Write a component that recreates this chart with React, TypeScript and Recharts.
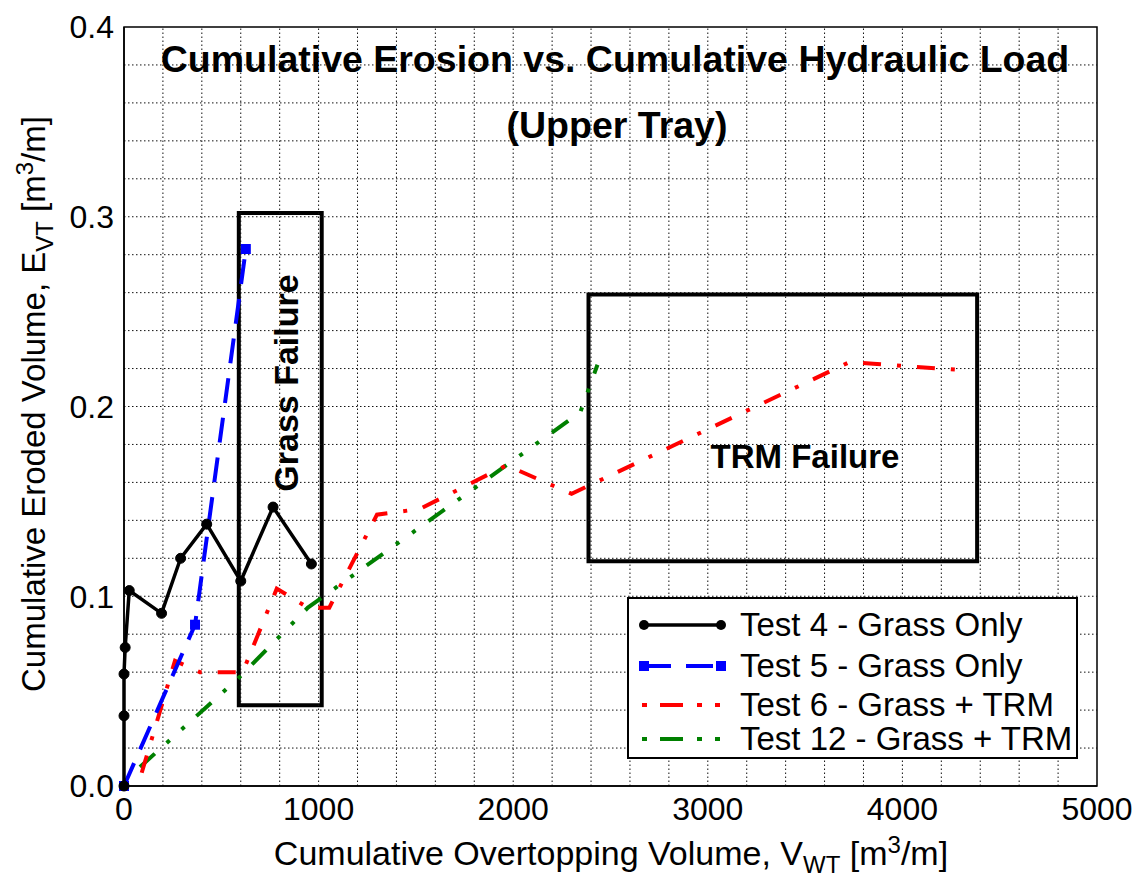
import React from 'react';
import { LineChart, Line, XAxis, YAxis, ReferenceLine, ReferenceArea } from 'recharts';

// values: v = cumulative overtopping volume, e = eroded volume
const test4 = [
  { v: 0, e: 0 },
  { v: 0, e: 0.037 },
  { v: 0, e: 0.059 },
  { v: 6, e: 0.073 },
  { v: 27, e: 0.103 },
  { v: 193, e: 0.091 },
  { v: 291, e: 0.12 },
  { v: 425, e: 0.138 },
  { v: 600, e: 0.108 },
  { v: 766, e: 0.147 },
  { v: 963, e: 0.117 },
];

const test5 = [
  { v: 0, e: 0 },
  { v: 365, e: 0.085 },
  { v: 626, e: 0.283 },
];

const test6 = [
  { v: 91, e: 0.007 },
  { v: 262, e: 0.066 },
  { v: 390, e: 0.06 },
  { v: 610, e: 0.06 },
  { v: 785, e: 0.104 },
  { v: 945, e: 0.094 },
  { v: 1055, e: 0.094 },
  { v: 1300, e: 0.143 },
  { v: 1520, e: 0.146 },
  { v: 1966, e: 0.169 },
  { v: 2300, e: 0.154 },
  { v: 3730, e: 0.2235 },
  { v: 3850, e: 0.2225 },
  { v: 4330, e: 0.219 },
];

const test12 = [
  { v: 82, e: 0.01 },
  { v: 590, e: 0.057 },
  { v: 945, e: 0.094 },
  { v: 2345, e: 0.197 },
  { v: 2433, e: 0.222 },
];

const xTicks = [0, 1000, 2000, 3000, 4000, 5000];
const yTicks = [0, 0.1, 0.2, 0.3, 0.4];
const xGrid = [200, 400, 600, 800, 1000, 1200, 1400, 1600, 1800, 2000, 2200, 2400, 2600, 2800, 3000, 3200, 3400, 3600, 3800, 4000, 4200, 4400, 4600, 4800];
const yGrid = [0.02, 0.04, 0.06, 0.08, 0.1, 0.12, 0.14, 0.16, 0.18, 0.2, 0.22, 0.24, 0.26, 0.28, 0.3, 0.32, 0.34, 0.36, 0.38];

// failure boxes [x1, x2, y1, y2]
const grassBox = [590, 1016, 0.0426, 0.302];
const trmBox = [2387, 4384, 0.1184, 0.259];

const legendItems = ['Test 4 - Grass Only', 'Test 5 - Grass Only', 'Test 6 - Grass + TRM', 'Test 12 - Grass + TRM'];

const font = '"Liberation Sans", Arial, Helvetica, sans-serif';

const blueDash = '25 15';
const redDash = '18 16 4 16';
const greenDash = '20 16 4 16 4 16';
const gridDash = '1.5 2.5';

const SquareDot = (props: any) => {
  const { cx, cy, index } = props;
  if (cx == null || cy == null) return null;
  return <rect key={`sq-${index}`} x={cx - 5} y={cy - 5} width={10} height={10} fill="#0000ff" />;
};

const LegendSample: React.FC<{ i: number }> = ({ i }) => {
  if (i === 0) {
    return (
      <svg width={90} height={20}>
        <line x1={5} y1={10} x2={82} y2={10} stroke="#000" strokeWidth={3.5} />
        <circle cx={5} cy={10} r={5} fill="#000" />
        <circle cx={82} cy={10} r={5} fill="#000" />
      </svg>
    );
  }
  if (i === 1) {
    return (
      <svg width={90} height={20}>
        <line x1={5} y1={10} x2={82} y2={10} stroke="#0000ff" strokeWidth={4} strokeDasharray="27 15" />
        <rect x={0} y={5} width={10} height={10} fill="#0000ff" />
        <rect x={77} y={5} width={10} height={10} fill="#0000ff" />
      </svg>
    );
  }
  return (
    <svg width={90} height={20}>
      <line
        x1={3}
        y1={10}
        x2={85}
        y2={10}
        stroke={i === 2 ? '#ff0000' : '#008000'}
        strokeWidth={4}
        strokeDasharray="5 13 23 14 5 13 5 13"
      />
    </svg>
  );
};

const App: React.FC = () => {
  return (
    <div style={{ position: 'absolute', left: 0, top: 0, width: 1141, height: 877, background: '#fff', fontFamily: font }}>
      <LineChart width={1141} height={877} margin={{ top: 27, right: 44, bottom: 0, left: 0 }}>
        <XAxis
          dataKey="v"
          type="number"
          domain={[0, 5000]}
          ticks={xTicks}
          height={91}
          tickLine={false}
          tickSize={0}
          tickMargin={11}
          axisLine={{ stroke: '#000', strokeWidth: 1.5 }}
          tick={{ fill: '#000', fontSize: 32, fontFamily: font }}
        />
        <YAxis
          type="number"
          domain={[0, 0.4]}
          ticks={yTicks}
          width={124}
          tickLine={false}
          tickSize={0}
          tickMargin={10}
          axisLine={{ stroke: '#000', strokeWidth: 1.5 }}
          tickFormatter={(t: number) => t.toFixed(1)}
          tick={{ fill: '#000', fontSize: 32, fontFamily: font }}
        />
        {xGrid.map((g) => (
          <ReferenceLine key={`gx-${g}`} x={g} stroke="#111" strokeWidth={1} strokeDasharray={gridDash} />
        ))}
        {yGrid.map((g) => (
          <ReferenceLine key={`gy-${g}`} y={g} stroke="#111" strokeWidth={1} strokeDasharray={gridDash} />
        ))}
        <ReferenceArea x1={0} x2={5000} y1={0} y2={0.4} fill="none" stroke="#000" strokeWidth={1.5} />
        <Line data={test12} dataKey="e" type="linear" stroke="#008000" strokeWidth={4} strokeDasharray={greenDash} dot={false} isAnimationActive={false} />
        <Line data={test6} dataKey="e" type="linear" stroke="#ff0000" strokeWidth={4} strokeDasharray={redDash} dot={false} isAnimationActive={false} />
        <Line data={test5} dataKey="e" type="linear" stroke="#0000ff" strokeWidth={4} strokeDasharray={blueDash} dot={<SquareDot />} isAnimationActive={false} />
        <Line data={test4} dataKey="e" type="linear" stroke="#000" strokeWidth={3.5} dot={{ r: 5, fill: '#000', stroke: '#000', strokeWidth: 1 }} isAnimationActive={false} />
        <ReferenceArea x1={grassBox[0]} x2={grassBox[1]} y1={grassBox[2]} y2={grassBox[3]} fill="none" stroke="#000" strokeWidth={4} />
        <ReferenceArea x1={trmBox[0]} x2={trmBox[1]} y1={trmBox[2]} y2={trmBox[3]} fill="none" stroke="#000" strokeWidth={4} />
      </LineChart>

      {/* title */}
      <div style={{ position: 'absolute', left: 115, width: 1000, top: 41, textAlign: 'center', fontSize: 37.5, lineHeight: '37.5px', fontWeight: 'bold' }}>
        Cumulative Erosion vs. Cumulative Hydraulic Load
      </div>
      <div style={{ position: 'absolute', left: 117, width: 1000, top: 107, textAlign: 'center', fontSize: 37.5, lineHeight: '37.5px', fontWeight: 'bold' }}>
        (Upper Tray)
      </div>

      {/* annotations */}
      <div style={{ position: 'absolute', left: 605, width: 400, top: 440, textAlign: 'center', fontSize: 33, lineHeight: '33px', fontWeight: 'bold' }}>
        TRM Failure
      </div>
      <div
        style={{
          position: 'absolute',
          left: 286 - 150,
          top: 383 - 17,
          width: 300,
          textAlign: 'center',
          fontSize: 34,
          lineHeight: '34px',
          fontWeight: 'bold',
          transform: 'rotate(-90deg)',
          transformOrigin: '150px 17px',
        }}
      >
        Grass Failure
      </div>

      {/* axis labels */}
      <div style={{ position: 'absolute', left: 111, width: 1000, top: 836, textAlign: 'center', fontSize: 34, lineHeight: '34px', whiteSpace: 'nowrap' }}>
        Cumulative Overtopping Volume, V
        <sub style={{ fontSize: 24, lineHeight: 0 }}>WT</sub> [m<sup style={{ fontSize: 24, lineHeight: 0 }}>3</sup>/m]
      </div>
      <div
        style={{
          position: 'absolute',
          left: 34 - 400,
          top: 404 - 17,
          width: 800,
          textAlign: 'center',
          fontSize: 33,
          lineHeight: '34px',
          whiteSpace: 'nowrap',
          transform: 'rotate(-90deg)',
          transformOrigin: '400px 17px',
        }}
      >
        Cumulative Eroded Volume, E<sub style={{ fontSize: 24, lineHeight: 0 }}>VT</sub> [m
        <sup style={{ fontSize: 24, lineHeight: 0 }}>3</sup>/m]
      </div>

      {/* legend */}
      <div
        style={{
          position: 'absolute',
          left: 627,
          top: 597,
          width: 451,
          height: 162,
          boxSizing: 'border-box',
          border: '2px solid #000',
          background: '#fff',
        }}
      >
        {legendItems.map((name, i) => (
          <div
            key={name}
            style={{
              position: 'absolute',
              left: 10,
              top: [26, 67, 106, 140][i] - 20,
              height: 40,
              display: 'flex',
              alignItems: 'center',
              whiteSpace: 'nowrap',
            }}
          >
            <LegendSample i={i} />
            <span style={{ marginLeft: 11, fontSize: 33, lineHeight: '40px' }}>{name}</span>
          </div>
        ))}
      </div>
    </div>
  );
};

export default App;
